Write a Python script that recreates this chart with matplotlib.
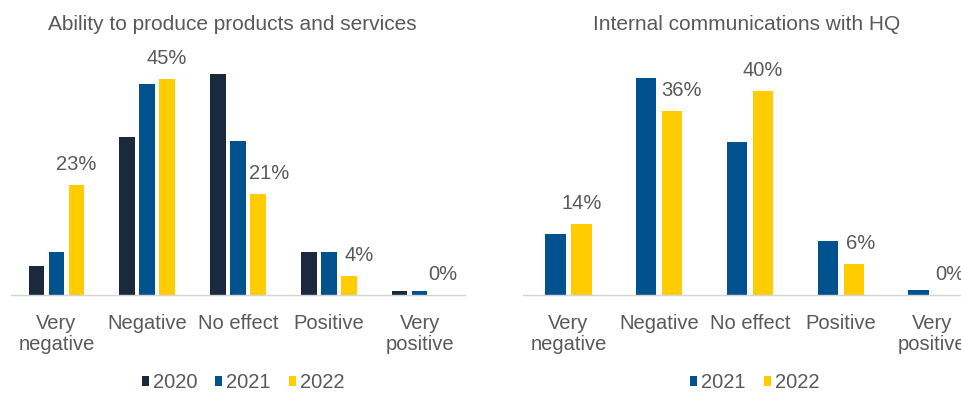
import matplotlib
matplotlib.use('Agg')
import matplotlib.pyplot as plt
import numpy as np

plt.rcParams['font.family'] = ['Liberation Sans', 'DejaVu Sans']

# survey answers per category (% of respondents)
categories = ['Very\nnegative', 'Negative', 'No effect', 'Positive', 'Very\npositive']

ability_2020 = [6, 33, 46, 9, 0.8]
ability_2021 = [9, 44, 32, 9, 0.8]
ability_2022 = [23, 45, 21, 4, 0]

comms_2021 = [12, 42.5, 30, 10.5, 1]
comms_2022 = [14, 36, 40, 6, 0]

# colours
navy = '#1a2a3c'
blue = '#00528f'
yellow = '#ffcc00'
grey = '#595959'

fig = plt.figure(figsize=(9.61, 3.94), dpi=100)
W, H = 961, 394

ax1 = fig.add_axes([11 / W, 99 / H, 454 / W, 240 / H])
ax2 = fig.add_axes([523 / W, 99 / H, 454 / W, 240 / H])

x = np.arange(len(categories))

# left chart: three years
b1 = ax1.bar(x - 0.22, ability_2020, 0.173, color=navy, label='2020')
b2 = ax1.bar(x, ability_2021, 0.173, color=blue, label='2021')
b3 = ax1.bar(x + 0.22, ability_2022, 0.173, color=yellow, label='2022')
ax1.set_ylim(0, 50)

# right chart: two years
c1 = ax2.bar(x - 0.143, comms_2021, 0.226, color=blue, label='2021')
c2 = ax2.bar(x + 0.143, comms_2022, 0.226, color=yellow, label='2022')
ax2.set_ylim(0, 47)

# value labels on the latest year only (nudged right where they would hit a bar)
shift1 = [0, 0, 11, 10, 3]
shift2 = [0, 9, 0, 7, 5]
for ax, bars, vals, shift in [(ax1, b3, ability_2022, shift1), (ax2, c2, comms_2022, shift2)]:
    for rect, v, dx in zip(bars, vals, shift):
        ax.annotate(f'{v:.0f}%', (rect.get_x() + rect.get_width() / 2, v),
                    xytext=(dx, 15), textcoords='offset pixels',
                    ha='center', va='baseline', fontsize=14.5, color=grey,
                    annotation_clip=False)

for ax in (ax1, ax2):
    ax.set_xlim(-0.5, 4.5)
    ax.set_xticks(x)
    ax.set_xticklabels(categories, fontsize=14.5, color=grey, linespacing=1.1)
    ax.tick_params(axis='x', length=0, pad=14)
    ax.set_yticks([])
    for s in ('top', 'left', 'right'):
        ax.spines[s].set_visible(False)
    ax.spines['bottom'].set_color('#d4d4d4')
    ax.spines['bottom'].set_linewidth(1.0)

# titles
fig.text(232 / W, 1 - 30 / H, 'Ability to produce products and services',
         ha='center', va='baseline', fontsize=15, color=grey)
fig.text(747 / W, 1 - 30 / H, 'Internal communications with HQ',
         ha='center', va='baseline', fontsize=15, color=grey)

# legends under each chart
leg_kw = dict(loc='center', frameon=False, fontsize=14.5, handlelength=0.35,
              handleheight=0.4, handletextpad=0.2, columnspacing=0.9,
              borderpad=0, borderaxespad=0, labelcolor=grey)
fig.legend([b1, b2, b3], ['2020', '2021', '2022'], ncol=3,
           bbox_to_anchor=(243 / W, 11 / H), **leg_kw)
fig.legend([c1, c2], ['2021', '2022'], ncol=2,
           bbox_to_anchor=(755 / W, 11 / H), **leg_kw)

plt.savefig('out.png', dpi=100)
